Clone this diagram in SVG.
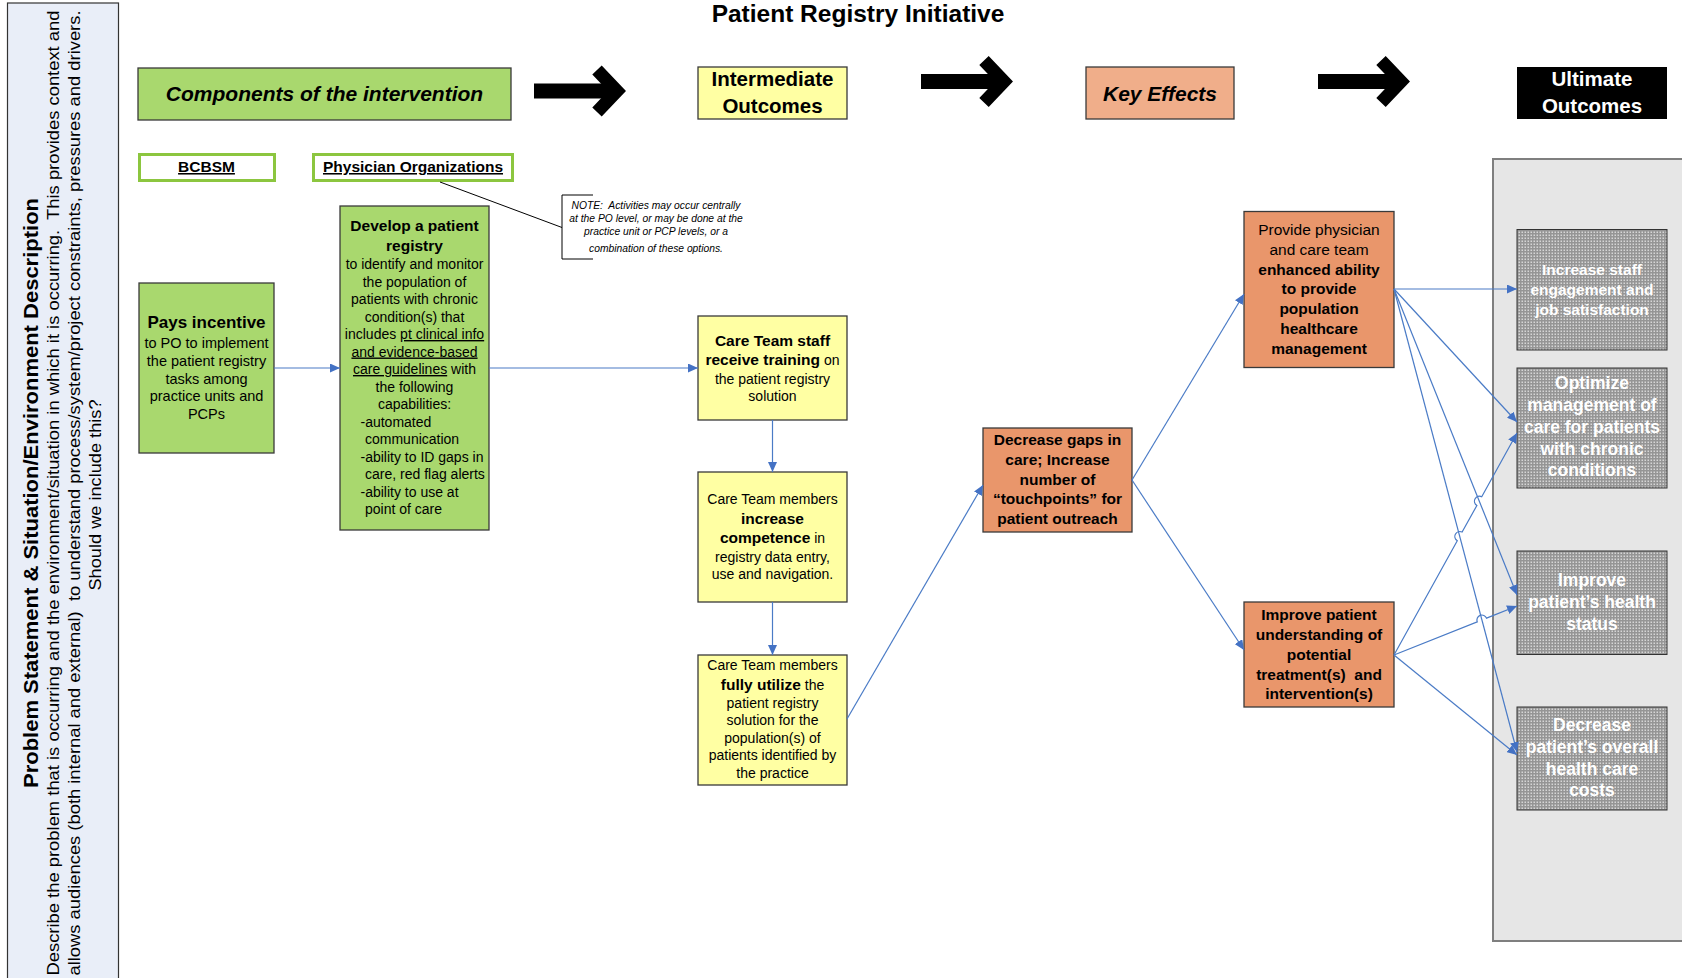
<svg xmlns="http://www.w3.org/2000/svg" width="1682" height="978" viewBox="0 0 1682 978">
<style>
text{font-family:"Liberation Sans",Arial,sans-serif;fill:#000}
.b{font-weight:bold}
.i{font-style:italic}
.c{text-anchor:middle}
.u{text-decoration:underline}
.box{stroke:#3a3a3a;stroke-width:1.3}
.green{fill:#A9D86E}
.yellow{fill:#FFFFA3}
.orange{fill:#E9966B}
.conn{stroke:#4A7BC6;stroke-width:1.2;fill:none;marker-end:url(#ah)}
.big{stroke:#000;fill:none;stroke-width:13;stroke-linejoin:miter}
.ot{fill:#fff;font-weight:bold;text-anchor:middle}
</style>
<defs>
<marker id="ah" markerUnits="userSpaceOnUse" markerWidth="11" markerHeight="9" refX="10" refY="4.5" orient="auto">
<path d="M0,0 L10,4.5 L0,9 z" fill="#4472C4"/>
</marker>
<pattern id="dots" width="3" height="3" patternUnits="userSpaceOnUse">
<rect width="3" height="3" fill="#959595"/>
<rect x="0.5" y="0.5" width="1.5" height="1.5" fill="#D6D6D6"/>
</pattern>
</defs>

<!-- left panel -->
<g id="problem-panel">
<rect x="7.5" y="3" width="111" height="990" fill="#E9EEF8" stroke="#333" stroke-width="1.2"/>
<text class="b c" font-size="20" textLength="590" lengthAdjust="spacingAndGlyphs" transform="translate(38,493) rotate(-90)">Problem Statement &amp; Situation/Environment Description</text>
<text class="c" font-size="17" textLength="965" lengthAdjust="spacingAndGlyphs" xml:space="preserve" transform="translate(59,493) rotate(-90)">Describe the problem that is occurring and the environment/situation in which it is occurring.  This provides context and</text>
<text class="c" font-size="17" textLength="965" lengthAdjust="spacingAndGlyphs" xml:space="preserve" transform="translate(80,493) rotate(-90)">allows audiences (both internal and external)  to understand process/system/project constraints, pressures and drivers.</text>
<text class="c" font-size="17" textLength="191" lengthAdjust="spacingAndGlyphs" transform="translate(101,495) rotate(-90)">Should we include this?</text>
</g>

<g id="title">
<text class="b c" x="858" y="22" font-size="24.5">Patient Registry Initiative</text>
</g>

<!-- headers -->
<g id="hdr-components">
<rect class="box green" x="138" y="68" width="373" height="52"/>
<text class="b i c" x="324.5" y="101" font-size="21">Components of the intervention</text>
</g>
<g id="hdr-intermediate">
<rect class="box yellow" x="698" y="67" width="149" height="52"/>
<text class="b c" x="772.5" y="86" font-size="20.5">Intermediate</text>
<text class="b c" x="772.5" y="113" font-size="20.5">Outcomes</text>
</g>
<g id="hdr-key">
<rect class="box" fill="#F0AE8A" x="1086" y="67" width="148" height="52"/>
<text class="b i c" x="1160" y="101" font-size="21">Key Effects</text>
</g>
<g id="hdr-ultimate">
<rect x="1517" y="67" width="150" height="52" fill="#000"/>
<text class="b c" x="1592" y="86" font-size="20.5" style="fill:#fff">Ultimate</text>
<text class="b c" x="1592" y="113" font-size="20.5" style="fill:#fff">Outcomes</text>
</g>

<!-- big arrows -->
<g id="big-arrows">
<rect x="534" y="83.5" width="80" height="15" fill="#000"/>
<polyline class="big" points="597,70 617,91 597,112"/>
<rect x="921" y="74" width="80" height="15" fill="#000"/>
<polyline class="big" points="984,60.5 1004,81.5 984,102.5"/>
<rect x="1318" y="74" width="80" height="15" fill="#000"/>
<polyline class="big" points="1381,60.5 1401,81.5 1381,102.5"/>
</g>

<g id="bcbsm">
<rect x="139.5" y="154.5" width="135" height="26" fill="#fff" stroke="#8CC63F" stroke-width="3"/>
<text class="b c u" x="206.5" y="172" font-size="15.5">BCBSM</text>
</g>
<g id="po">
<rect x="313.5" y="154.5" width="199" height="26" fill="#fff" stroke="#8CC63F" stroke-width="3"/>
<text class="b c u" x="413" y="172" font-size="15.5">Physician Organizations</text>
</g>

<g id="note">
<path d="M593,195 H562 V259 H593" fill="none" stroke="#000" stroke-width="1"/>
<text class="i c" x="656" y="208.5" font-size="10.3" xml:space="preserve">NOTE:  Activities may occur centrally</text>
<text class="i c" x="656" y="221.5" font-size="10.3">at the PO level, or may be done at the</text>
<text class="i c" x="656" y="234.5" font-size="10.3">practice unit or PCP levels, or a</text>
<text class="i c" x="656" y="251.5" font-size="10.3">combination of these options.</text>
</g>

<g id="pays">
<rect class="box green" x="139" y="283" width="135" height="170"/>
<text class="b c" x="206.5" y="328" font-size="17">Pays incentive</text>
<text class="c" x="206.5" y="348" font-size="14.5">to PO to implement</text>
<text class="c" x="206.5" y="365.5" font-size="14.5">the patient registry</text>
<text class="c" x="206.5" y="383.5" font-size="14.5">tasks among</text>
<text class="c" x="206.5" y="401" font-size="14.5">practice units and</text>
<text class="c" x="206.5" y="418.5" font-size="14.5">PCPs</text>
</g>

<g id="develop">
<rect class="box green" x="340" y="206" width="149" height="324"/>
<text class="b c" x="414.5" y="231" font-size="15.5">Develop a patient</text>
<text class="b c" x="414.5" y="251" font-size="15.5">registry</text>
<g font-size="14">
<text class="c" x="414.5" y="269">to identify and monitor</text>
<text class="c" x="414.5" y="286.5">the population of</text>
<text class="c" x="414.5" y="304">patients with chronic</text>
<text class="c" x="414.5" y="321.5">condition(s) that</text>
<text class="c" x="414.5" y="339">includes <tspan class="u">pt clinical info</tspan></text>
<text class="c u" x="414.5" y="356.5">and evidence-based</text>
<text class="c" x="414.5" y="374"><tspan class="u">care guidelines</tspan> with</text>
<text class="c" x="414.5" y="391.5">the following</text>
<text class="c" x="414.5" y="409">capabilities:</text>
<text x="360.5" y="426.5">-automated</text>
<text x="365" y="444">communication</text>
<text x="360.5" y="461.5">-ability to ID gaps in</text>
<text x="365" y="479">care, red flag alerts</text>
<text x="360.5" y="496.5">-ability to use at</text>
<text x="365" y="514">point of care</text>
</g>
</g>

<g id="training">
<rect class="box yellow" x="698" y="316" width="149" height="104"/>
<text class="b c" x="772.5" y="346" font-size="15.5">Care Team staff</text>
<text class="c" x="772.5" y="365" font-size="14"><tspan class="b" font-size="15.5">receive training</tspan> on</text>
<text class="c" x="772.5" y="383.5" font-size="14">the patient registry</text>
<text class="c" x="772.5" y="400.5" font-size="14">solution</text>
</g>

<g id="competence">
<rect class="box yellow" x="698" y="472" width="149" height="130"/>
<text class="c" x="772.5" y="503.5" font-size="14">Care Team members</text>
<text class="b c" x="772.5" y="523.5" font-size="15.5">increase</text>
<text class="c" x="772.5" y="543" font-size="14"><tspan class="b" font-size="15.5">competence</tspan> in</text>
<text class="c" x="772.5" y="561.5" font-size="14">registry data entry,</text>
<text class="c" x="772.5" y="578.5" font-size="14">use and navigation.</text>
</g>

<g id="utilize">
<rect class="box yellow" x="698" y="655" width="149" height="130"/>
<text class="c" x="772.5" y="669.5" font-size="14">Care Team members</text>
<text class="c" x="772.5" y="689.5" font-size="14"><tspan class="b" font-size="15.5">fully utilize</tspan> the</text>
<text class="c" x="772.5" y="707.5" font-size="14">patient registry</text>
<text class="c" x="772.5" y="724.5" font-size="14">solution for the</text>
<text class="c" x="772.5" y="742.5" font-size="14">population(s) of</text>
<text class="c" x="772.5" y="760" font-size="14">patients identified by</text>
<text class="c" x="772.5" y="777.5" font-size="14">the practice</text>
</g>

<g id="decrease-gaps">
<rect class="box orange" x="983" y="428" width="149" height="104"/>
<text class="b c" x="1057.5" y="445" font-size="15.5">Decrease gaps in</text>
<text class="b c" x="1057.5" y="464.5" font-size="15.5">care; Increase</text>
<text class="b c" x="1057.5" y="484.5" font-size="15.5">number of</text>
<text class="b c" x="1057.5" y="504" font-size="15.5">“touchpoints” for</text>
<text class="b c" x="1057.5" y="524" font-size="15.5">patient outreach</text>
</g>

<g id="provide">
<rect class="box orange" x="1244" y="211.5" width="150" height="156"/>
<text class="c" x="1319" y="234.5" font-size="15.5">Provide physician</text>
<text class="c" x="1319" y="254.5" font-size="15.5">and care team</text>
<text class="b c" x="1319" y="274.5" font-size="15.5">enhanced ability</text>
<text class="b c" x="1319" y="294" font-size="15.5">to provide</text>
<text class="b c" x="1319" y="314" font-size="15.5">population</text>
<text class="b c" x="1319" y="334" font-size="15.5">healthcare</text>
<text class="b c" x="1319" y="353.5" font-size="15.5">management</text>
</g>

<g id="improve">
<rect class="box orange" x="1244" y="602" width="150" height="105"/>
<text class="b c" x="1319" y="620" font-size="15.5">Improve patient</text>
<text class="b c" x="1319" y="640" font-size="15.5">understanding of</text>
<text class="b c" x="1319" y="660" font-size="15.5">potential</text>
<text class="b c" x="1319" y="679.5" font-size="15.5" xml:space="preserve">treatment(s)  and</text>
<text class="b c" x="1319" y="699" font-size="15.5">intervention(s)</text>
</g>

<g id="ultimate-panel">
<rect x="1493" y="159" width="200" height="782" fill="#E6E6E6" stroke="#7F7F7F" stroke-width="2"/>
</g>

<g id="out-staff">
<rect x="1517" y="229.5" width="150" height="120.5" fill="url(#dots)" stroke="#333" stroke-width="1"/>
<text class="ot" x="1592" y="275" font-size="15.5">Increase staff</text>
<text class="ot" x="1592" y="295" font-size="15.5">engagement and</text>
<text class="ot" x="1592" y="315" font-size="15.5">job satisfaction</text>
</g>
<g id="out-optimize">
<rect x="1517" y="368" width="150" height="120" fill="url(#dots)" stroke="#333" stroke-width="1"/>
<text class="ot" x="1592" y="389" font-size="17.5">Optimize</text>
<text class="ot" x="1592" y="411" font-size="17.5">management of</text>
<text class="ot" x="1592" y="433" font-size="17.5">care for patients</text>
<text class="ot" x="1592" y="454.5" font-size="17.5">with chronic</text>
<text class="ot" x="1592" y="476" font-size="17.5">conditions</text>
</g>
<g id="out-health">
<rect x="1517" y="551" width="150" height="103.5" fill="url(#dots)" stroke="#333" stroke-width="1"/>
<text class="ot" x="1592" y="586" font-size="17.5">Improve</text>
<text class="ot" x="1592" y="608" font-size="17.5">patient’s health</text>
<text class="ot" x="1592" y="629.5" font-size="17.5">status</text>
</g>
<g id="out-costs">
<rect x="1517" y="707" width="150" height="103" fill="url(#dots)" stroke="#333" stroke-width="1"/>
<text class="ot" x="1592" y="731" font-size="17.5">Decrease</text>
<text class="ot" x="1592" y="753" font-size="17.5">patient’s overall</text>
<text class="ot" x="1592" y="774.5" font-size="17.5">health care</text>
<text class="ot" x="1592" y="796" font-size="17.5">costs</text>
</g>

<g id="connectors">
<line x1="440" y1="182" x2="562" y2="227.5" stroke="#000" stroke-width="1"/>
<path class="conn" d="M274,368 H340"/>
<path class="conn" d="M489,368 H698"/>
<path class="conn" d="M772.5,420 V472"/>
<path class="conn" d="M772.5,602 V655"/>
<path class="conn" d="M847,719 L983,485"/>
<path class="conn" d="M1132,480 L1244,294"/>
<path class="conn" d="M1132,480 L1244,650"/>
<path class="conn" d="M1394,289 H1517"/>
<path class="conn" d="M1394,289 L1517,422"/>
<path class="conn" d="M1394,289 L1517,595"/>
<path class="conn" d="M1394,289 L1517,752"/>
<path class="conn" d="M1394,655 L1457.28,540.77 A5,5 0 0 1 1462.12,532.03 L1476.88,505.47 A5,5 0 0 1 1481.72,496.73 L1517,433"/>
<path class="conn" d="M1394,655 L1477.26,621.85 A5,5 0 0 1 1486.55,618.15 L1517,606"/>
<path class="conn" d="M1394,655 L1517,755"/>
</g>
</svg>
